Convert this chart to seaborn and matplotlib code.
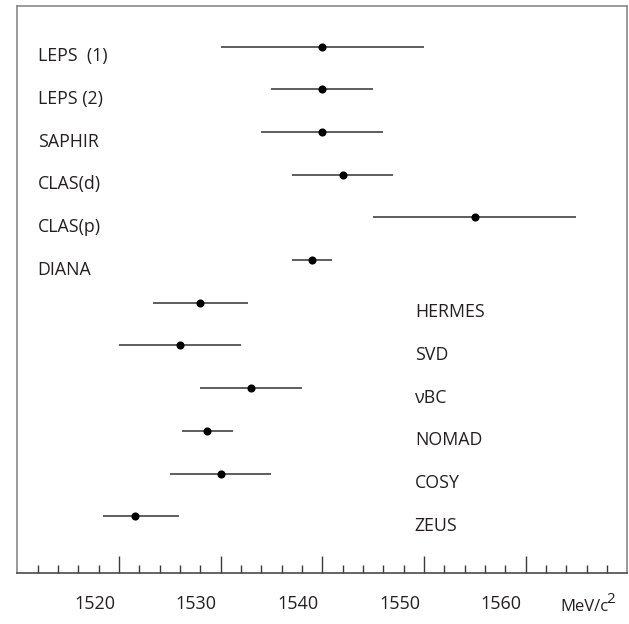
import matplotlib
matplotlib.use("Agg")
import matplotlib.pyplot as plt
import seaborn as sns
import pandas as pd
import numpy as np

# ---- data ----
experiments = ["LEPS  (1)", "LEPS (2)", "SAPHIR", "CLAS(d)", "CLAS(p)", "DIANA",
               "HERMES", "SVD", "\u03bdBC", "NOMAD", "COSY", "ZEUS"]
mass = [1540.0, 1540.0, 1540.0, 1542.0, 1555.0, 1539.0,
        1528.0, 1526.0, 1533.0, 1528.7, 1530.0, 1521.6]
err_low = [1530.0, 1535.0, 1534.0, 1537.0, 1545.0, 1537.0,
           1523.3, 1520.0, 1528.0, 1526.2, 1525.0, 1518.4]
err_high = [1550.0, 1545.0, 1546.0, 1547.0, 1565.0, 1541.0,
            1532.7, 1532.0, 1538.0, 1531.2, 1535.0, 1525.9]
major_ticks = [1520, 1530, 1540, 1550, 1560]
tick_labels = ["1520", "1530", "1540", "1550", "1560"]
unit_label = "MeV/c"
unit_power = "2"

df = pd.DataFrame({"experiment": experiments, "mass": mass,
                   "lo": err_low, "hi": err_high})
df["row"] = np.arange(len(df))

sns.set_style("white")
plt.rcParams["font.family"] = ["Open Sans", "DejaVu Sans"]

text_color = "#231f20"
fig = plt.figure(figsize=(6.29, 6.24), dpi=100)
ax = fig.add_axes([17.3 / 629, 1 - 573 / 624, (627.3 - 17.3) / 629, (573 - 6) / 624])

ax.hlines(df["row"], df["lo"], df["hi"], color="#505050", lw=1.3, zorder=2)
sns.scatterplot(data=df, x="mass", y="row", ax=ax, color="black", s=34,
                edgecolor="black", linewidth=0, zorder=3, legend=False)

# labels
for i, r in df.iterrows():
    lx = 1512.0 if i < 6 else 1549.1
    ax.text(lx, r["row"] + 0.34, r["experiment"], fontsize=12.8, color=text_color,
            ha="left", va="baseline")

ax.set_xlim(1510, 1570)
ax.set_ylim(12.33, -0.953)
ax.set_xlabel("")
ax.set_ylabel("")
ax.set_yticks([])

# tick marks (inward)
ax.set_xticks(major_ticks)
ax.set_xticklabels([])
ax.set_xticks(np.arange(1512, 1570, 2), minor=True)
ax.tick_params(axis="x", which="major", direction="in", length=12.5, width=1.0,
               color="#3a3a3a", bottom=True)
ax.tick_params(axis="x", which="minor", direction="in", length=6, width=1.0,
               color="#3a3a3a", bottom=True)

# tick labels (typeset slightly left of the marks, as in the original)
sec = ax.secondary_xaxis("bottom", functions=(lambda x: x + 2.4, lambda x: x - 2.4))
sec.set_xticks(major_ticks)
sec.set_xticklabels(tick_labels)
sec.tick_params(length=0, pad=16, labelsize=13, labelcolor=text_color)
sec.spines["bottom"].set_visible(False)

for side in ["left", "top", "right"]:
    ax.spines[side].set_color("#8a8a8a")
    ax.spines[side].set_linewidth(1.2)
ax.spines["bottom"].set_color("#4a4a4a")
ax.spines["bottom"].set_linewidth(1.2)

t_unit = fig.text(560 / 629, 1 - 611 / 624, unit_label, fontsize=12, color=text_color,
                  ha="left", va="baseline")
ax.annotate(unit_power, xy=(1, 1), xycoords=t_unit, xytext=(-1.0, 5.0),
            textcoords="offset points", fontsize=11, color=text_color,
            ha="left", va="top", annotation_clip=False)

fig.savefig("out.png", dpi=100)
